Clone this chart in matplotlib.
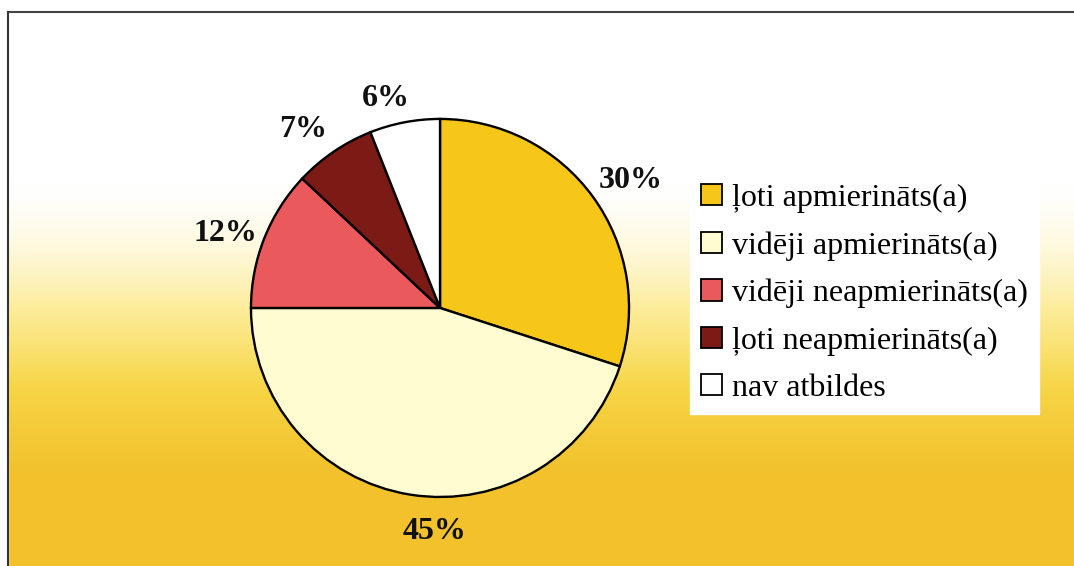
import numpy as np
import matplotlib
matplotlib.use("Agg")
import matplotlib.pyplot as plt
from matplotlib.colors import LinearSegmentedColormap
from matplotlib.lines import Line2D

labels = ['ļoti apmierināts(a)', 'vidēji apmierināts(a)', 'vidēji neapmierināts(a)',
          'ļoti neapmierināts(a)', 'nav atbildes']
values = [30, 45, 12, 7, 6]
colors = ['#f6c619', '#fffcd2', '#ea5a5c', '#7c1a16', '#ffffff']
# small shifts of the percent labels (in pie radius units)
label_nudge = [(0.04, -0.03), (0.16, 0.0), (-0.02, -0.05), (-0.05, -0.05), (-0.06, -0.07)]

plt.rcParams['font.family'] = ['Liberation Serif', 'DejaVu Serif']

fig = plt.figure(figsize=(10.74, 5.66), dpi=100)

# background gradient: white at top, yellow-orange at bottom
bg = fig.add_axes([0, 0, 1, 1], zorder=0)
bg.set_axis_off()
t = np.linspace(0, 1, 566)
s = np.clip((t - 0.3) / 0.7, 0, 1)
prof = s * s * (3 - 2 * s)
prof = np.clip(prof * 1.15, 0, 1)
grad = np.tile(prof[:, None], (1, 20))
cmap = LinearSegmentedColormap.from_list('bgc', ['#ffffff', '#fcec98', '#f7d546', '#f2c12c'])
bg.imshow(grad, cmap=cmap, aspect='auto', extent=[0, 1, 0, 1], origin='upper', vmin=0, vmax=1)
bg.set_xlim(0, 1)
bg.set_ylim(0, 1)

# white area outside the frame
bg.axhspan(1 - 12 / 566, 1, color='white', zorder=2)
bg.axvspan(0, 8 / 1074, color='white', zorder=2)

ax = fig.add_axes([0.2337, 0.1219, 0.352, 0.668], zorder=2)
wedges, texts, autotexts = ax.pie(
    values, colors=colors, startangle=90, counterclock=False,
    autopct=lambda p: '%d%%' % round(p), pctdistance=1.2,
    wedgeprops=dict(edgecolor='black', linewidth=1.7),
    textprops=dict(fontsize=23, fontweight='bold', color='#111111'),
    radius=1.0)
for txt, (dx, dy) in zip(autotexts, label_nudge):
    x, y = txt.get_position()
    txt.set_position((x + dx, y + dy))
    txt.set_clip_on(False)
ax.set_xlim(-1, 1)
ax.set_ylim(-1, 1)
ax.set_aspect('equal')
ax.set_axis_off()

leg = fig.legend(wedges, labels, loc='upper left', bbox_to_anchor=(0.6425, 0.695),
                 bbox_transform=fig.transFigure, fontsize=23, frameon=True,
                 fancybox=False, handlelength=0.65, handleheight=0.65,
                 handletextpad=0.3, labelspacing=0.57, borderpad=0.35,
                 borderaxespad=0)
leg.get_frame().set_facecolor('white')
leg.get_frame().set_edgecolor('white')
leg.get_frame().set_alpha(1)
leg.set_zorder(5)
for h in leg.legend_handles:
    h.set_edgecolor('black')
    h.set_linewidth(1.3)

# frame lines
fig.add_artist(Line2D([8 / 1074, 1], [1 - 12 / 566, 1 - 12 / 566], color='#444444', lw=1.5))
fig.add_artist(Line2D([8 / 1074, 8 / 1074], [0, 1 - 12 / 566], color='#333333', lw=1.5))

fig.savefig('out.png', dpi=100)
